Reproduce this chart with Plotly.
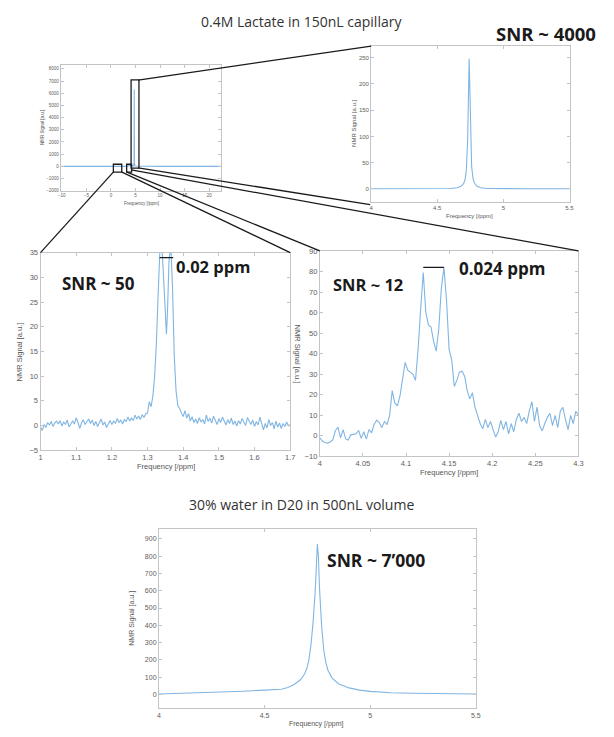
import numpy as np
import plotly.graph_objects as go

W, H = 614, 737

# ---------------- DATA ----------------
# Overview spectrum (lactate, full range)
ov_x = [-10, -2, 0, 1.33, 1.35, 1.37, 3, 4.12, 4.6, 4.7, 4.74, 4.78, 4.9, 10, 22.5]
ov_y = [0, 0, 0, 20, 35, 20, 0, 80, 30, 250, 6300, 250, 30, 0, 0]

# Zoom 1: lactate water-region peak
p1_x = [4.0, 4.2, 4.4, 4.5, 4.6, 4.65, 4.68, 4.70, 4.71, 4.72, 4.725, 4.73, 4.735, 4.741,
        4.745, 4.75, 4.755, 4.76, 4.77, 4.78, 4.80, 4.83, 4.88, 5.0, 5.2, 5.5]
p1_y = [0.3, 0.3, 0.4, 0.5, 0.9, 2.2, 4.9, 10.5, 17.8, 35.9, 56, 94.7, 168, 248,
        205, 119, 68.5, 42.5, 20.2, 11.6, 5.2, 2.3, 1.0, 0.4, 0.3, 0.3]

# Zoom 2: lactate CH3 doublet 1.0-1.7 ppm
p2_x = [1.000, 1.005, 1.010, 1.015, 1.020, 1.025, 1.030, 1.035, 1.040, 1.045,
        1.050, 1.055, 1.060, 1.065, 1.070, 1.075, 1.080, 1.085, 1.090, 1.095,
        1.100, 1.105, 1.110, 1.115, 1.120, 1.125, 1.130, 1.135, 1.140, 1.145,
        1.150, 1.155, 1.160, 1.165, 1.170, 1.175, 1.180, 1.185, 1.190, 1.195,
        1.200, 1.205, 1.210, 1.215, 1.220, 1.225, 1.230, 1.235, 1.240, 1.245,
        1.250, 1.255, 1.260, 1.265, 1.270, 1.275, 1.280, 1.285, 1.290, 1.295,
        1.300, 1.305, 1.310, 1.315, 1.320, 1.325, 1.330, 1.335, 1.340, 1.345,
        1.350, 1.353, 1.356, 1.360, 1.365, 1.370, 1.375, 1.380, 1.385, 1.390,
        1.395, 1.400, 1.405, 1.410, 1.415, 1.420, 1.425, 1.430, 1.435, 1.440,
        1.445, 1.450, 1.455, 1.460, 1.465, 1.470, 1.475, 1.480, 1.485, 1.490,
        1.495, 1.500, 1.505, 1.510, 1.515, 1.520, 1.525, 1.530, 1.535, 1.540,
        1.545, 1.550, 1.555, 1.560, 1.565, 1.570, 1.575, 1.580, 1.585, 1.590,
        1.595, 1.600, 1.605, 1.610, 1.615, 1.620, 1.625, 1.630, 1.635, 1.640,
        1.645, 1.650, 1.655, 1.660, 1.665, 1.670, 1.675, 1.680, 1.685, 1.690,
        1.695, 1.700]
p2_y = [-0.3, -1.0, 0.2, -0.4, 0.6, 0.1, 0.8, -0.2, 0.5, 0.9,
        0.3, 1.0, -0.1, 0.7, 0.2, 1.1, -0.3, 0.4, 0.9, 0.3,
        1.6, 0.6, -0.6, 0.5, 1.2, 0.2, 0.9, 1.3, 0.4, 1.1,
        0.0, 0.8, -0.2, 0.6, 1.3, 0.1, 0.7, -0.4, 0.5, 1.0,
        0.2, 0.9, 0.4, 1.4, 0.6, 1.1, 0.3, 1.2, 0.8, 1.7,
        0.9, 1.5, 1.0, 2.1, 1.3, 1.9, 1.2, 2.2, 1.6, 2.4,
        2.5, 4.8, 3.8, 6.0, 10.0, 17.0, 27.0, 36.0, 37.0, 29.0,
        20.0, 18.5, 23.0, 33.0, 37.0, 28.0, 14.0, 7.0, 4.0, 3.5,
        2.5, 1.8, 3.0, 1.5, 2.4, 0.9, 1.8, 0.6, 1.3, 0.4,
        1.6, 0.7, 1.2, 0.3, 2.1, 0.8, 1.5, 0.5, 1.9, 1.0,
        0.2, 1.4, 0.6, 1.7, 0.9, 0.1, 1.2, 0.4, 1.5, 0.2,
        0.9, -0.1, 1.0, 0.3, 1.4, 0.5, 0.0, 1.6, 0.7, 0.2,
        1.1, -0.2, 0.8, 0.1, 1.7, 0.3, -0.9, 0.4, -0.5, 1.2,
        0.0, 0.6, -0.7, 0.9, -0.3, 0.5, -0.6, 0.4, -0.2, 0.7,
        -0.1, 0.2]

# Zoom 3: lactate CH quartet 4.0-4.3 ppm (sampled every 0.003 ppm)
p3_x0, p3_dx = 4.0, 0.003
p3_y = [-1, -2.5, -3.2, -3.5, -3, -2, 2.5, 4.2, -1, 3,
        -1.5, -2, 0.5, 0.8, 1, 2.6, -1.2, 2, -1.5, 3,
        1.5, 5.5, 7.7, 6.5, 4, 7, 5.5, 10, 22, 16,
        14.6, 19.4, 27, 35.8, 32, 30.8, 30, 27, 42, 62,
        79.5, 60, 54, 53, 46, 41.2, 52, 72, 82, 66,
        42, 37, 24, 27, 31, 31.5, 29, 22, 18, 21,
        14, 10, 6, 3.4, 8, 4, 7, 3, -0.6, 2,
        7.5, 3, 7, 1, 6, 2, 8, 11, 7, 9,
        6, 12, 16.7, 7, 14, 5, 2.4, 6, 9, 11,
        5, 10, 4, 12, 13.9, 8, 3, 10, 6, 12,
        10]
p3_x = [round(p3_x0 + i * p3_dx, 3) for i in range(len(p3_y))]

# Bottom: water in D2O
p4_x = [4.00, 4.10, 4.20, 4.30, 4.40, 4.50, 4.58, 4.61, 4.64, 4.67, 4.69, 4.70, 4.71,
        4.72, 4.73, 4.74, 4.745, 4.750, 4.755, 4.76, 4.77, 4.78, 4.79, 4.80, 4.82,
        4.85, 4.90, 4.95, 5.00, 5.10, 5.20, 5.30, 5.40, 5.50]
p4_y = [3, 6, 9, 13, 19, 25, 30, 40, 58, 85, 120, 150, 200,
        290, 420, 600, 760, 870, 800, 620, 400, 260, 185, 140, 95,
        62, 38, 25, 18, 10, 7, 5, 4, 3]

# Zoom windows drawn on the overview (ppm, a.u.)
win_main = dict(x0=4.1, x1=5.7, y0=-150, y1=7100)
win_ch3 = dict(x0=0.5, x1=2.2, y0=-480, y1=170)
win_ch = dict(x0=3.2, x1=4.2, y0=-480, y1=170)

# ---------------- LAYOUT HELPERS ----------------
def px(x):
    return x / W

def py(y):
    return 1 - y / H

LINE_COL = "#80b5e2"
AX_COL = "#c4c4c4"
TICK_COL = "#606060"

fig = go.Figure()

def add_axis(n, box, xr, yr, xt, yt, fs, xtt=None):
    x0, x1, y0, y1 = box
    xa = "xaxis" if n == 1 else f"xaxis{n}"
    ya = "yaxis" if n == 1 else f"yaxis{n}"
    anchor_x = "y" if n == 1 else f"y{n}"
    anchor_y = "x" if n == 1 else f"x{n}"
    common = dict(showgrid=False, zeroline=False, showline=True, linecolor=AX_COL,
                  linewidth=1, mirror="ticks", ticks="inside", ticklen=3,
                  tickcolor=AX_COL, tickfont=dict(size=fs, color=TICK_COL,
                                                  family="Liberation Sans"))
    fig.layout[xa] = dict(domain=[px(x0), px(x1)], range=xr, anchor=anchor_x,
                          tickvals=xt, ticktext=xtt, **common)
    fig.layout[ya] = dict(domain=[py(y1), py(y0)], range=yr, anchor=anchor_y,
                          tickvals=yt, **common)

add_axis(1, (58.5, 221, 62, 189), [-10.2, 22.4], [-2000, 8300],
         [-10, -5, 0, 5, 10, 15, 20], list(range(-2000, 8001, 1000)), 4.5)
add_axis(2, (373, 574, 42.7, 200), [4, 5.5], [-24, 272],
         [4, 4.5, 5, 5.5], [0, 50, 100, 150, 200, 250], 6)
add_axis(3, (38, 291, 251.7, 451.7), [1, 1.7], [-5, 35],
         [1, 1.1, 1.2, 1.3, 1.4, 1.5, 1.6, 1.7], list(range(-5, 36, 5)), 7.5,
         ["1", "1.1", "1.2", "1.3", "1.4", "1.5", "1.6", "1.7"])
add_axis(4, (321, 583, 250, 458), [4, 4.3], [-10, 90],
         [4, 4.05, 4.1, 4.15, 4.2, 4.25, 4.3], list(range(-10, 91, 10)), 7.5,
         ["4", "4.05", "4.1", "4.15", "4.2", "4.25", "4.3"])
add_axis(5, (158, 479, 531, 713), [4, 5.5], [-80, 960],
         [4, 4.5, 5, 5.5], list(range(0, 901, 100)), 7)

traces = [(ov_x, ov_y, "x", "y"), (p1_x, p1_y, "x2", "y2"), (p2_x, p2_y, "x3", "y3"),
          (p3_x, p3_y, "x4", "y4"), (p4_x, p4_y, "x5", "y5")]
for xs, ys, xa, ya in traces:
    fig.add_trace(go.Scatter(x=xs, y=ys, xaxis=xa, yaxis=ya, mode="lines",
                             line=dict(color=LINE_COL, width=1.1), showlegend=False,
                             hoverinfo="skip"))

shapes = []
for w in (win_main, win_ch3, win_ch):
    shapes.append(dict(type="rect", xref="x", yref="y", line=dict(color="#1a1a1a", width=1.3),
                       fillcolor="rgba(0,0,0,0)", **w))

# connector lines (pixel endpoints)
connectors = [((137, 77), (373, 42.7)), ((137, 166), (372, 203)),
              ((112, 170), (38, 251.7)), ((120, 170), (291, 251.7)),
              ((125, 170), (321, 250)), ((130, 168), (583, 250))]
for (a, b) in connectors:
    shapes.append(dict(type="line", xref="paper", yref="paper",
                       x0=px(a[0]), y0=py(a[1]), x1=px(b[0]), y1=py(b[1]),
                       line=dict(color="#1a1a1a", width=1.3)))

# peak-separation bars
shapes.append(dict(type="line", xref="x3", yref="y3", x0=1.334, x1=1.372, y0=34, y1=34,
                   line=dict(color="#1a1a1a", width=1.3)))
shapes.append(dict(type="line", xref="x4", yref="y4", x0=4.12, x1=4.144, y0=82, y1=82,
                   line=dict(color="#1a1a1a", width=1.3)))
fig.update_layout(shapes=shapes)

ann = []
def text(x, y, s, size, bold=False, xanchor="center", angle=0, color="#222", fam="Open Sans"):
    ann.append(dict(x=px(x), y=py(y), xref="paper", yref="paper", text=(f"<b>{s}</b>" if bold else s),
                    showarrow=False, xanchor=xanchor, yanchor="middle", textangle=angle,
                    borderpad=0, font=dict(size=size, color=color, family=fam)))

text(302, 18, "0.4M Lactate in 150nL capillary", 14, color="#333")
text(302, 507, "30% water in D20 in 500nL volume", 14, color="#333")
text(602, 30, "SNR ~ 4000", 18.5, bold=True, xanchor="right", color="#1a1a1a")
text(97, 283, "SNR ~ 50", 17, bold=True, color="#1a1a1a")
text(174, 266, "0.02 ppm", 16.5, bold=True, xanchor="left", color="#1a1a1a")
text(370, 284, "SNR ~ 12", 16.5, bold=True, color="#1a1a1a")
text(461, 268, "0.024 ppm", 17, bold=True, xanchor="left", color="#1a1a1a")
text(327, 563, "SNR ~ 7’000", 17.5, bold=True, xanchor="left", color="#1a1a1a")

# axis titles
AT = "#555"
text(140, 202, "Frequency [/ppm]", 4.5, color=AT, fam="Liberation Sans")
text(40, 125, "NMR Signal [a.u.]", 4.5, angle=-90, color=AT, fam="Liberation Sans")
text(473, 215, "Frequency [/ppm]", 6, color=AT, fam="Liberation Sans")
text(355, 121, "NMR Signal [a.u.]", 6, angle=-90, color=AT, fam="Liberation Sans")
text(165, 468, "Frequency [/ppm]", 7.5, color=AT, fam="Liberation Sans")
text(17, 352, "NMR Signal [a.u.]", 7.5, angle=-90, color=AT, fam="Liberation Sans")
text(452, 474, "Frequency [/ppm]", 7.5, color=AT, fam="Liberation Sans")
text(298, 354, "NMR Signal [a.u.]", 7.5, angle=90, color=AT, fam="Liberation Sans")
text(318, 729, "Frequency [/ppm]", 7, color=AT, fam="Liberation Sans")
text(131, 622, "NMR Signal [a.u.]", 7, angle=-90, color=AT, fam="Liberation Sans")

fig.update_layout(annotations=ann, width=W, height=H,
                  margin=dict(l=0, r=0, t=0, b=0), paper_bgcolor="white",
                  plot_bgcolor="white")

fig.write_html("out.html", config={"displayModeBar": False},
               post_script="document.body.style.margin='0';document.body.style.overflow='hidden';")
